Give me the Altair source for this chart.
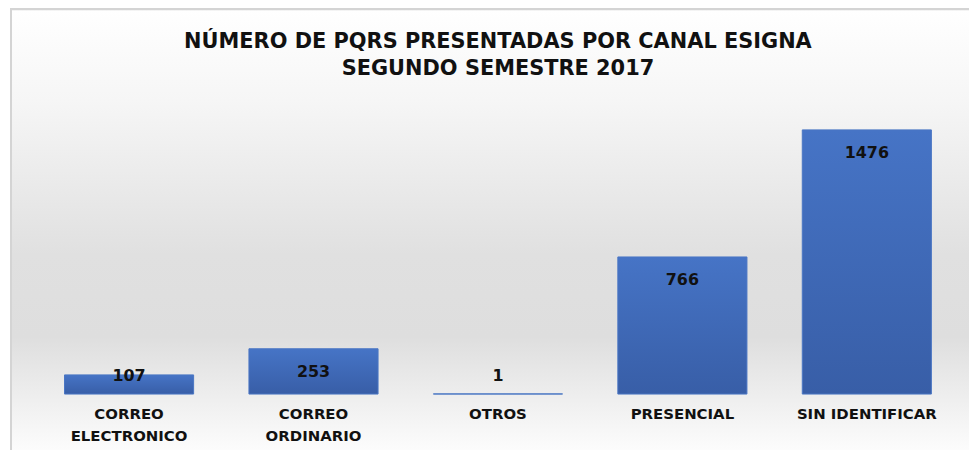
import altair as alt
import pandas as pd

categories = ["CORREO ELECTRONICO", "CORREO ORDINARIO", "OTROS", "PRESENCIAL", "SIN IDENTIFICAR"]
label_lines = ["CORREO\nELECTRONICO", "CORREO\nORDINARIO", "OTROS", "PRESENCIAL", "SIN IDENTIFICAR"]
values = [107, 253, 1, 766, 1476]

df = pd.DataFrame({"cat": label_lines, "v": values})

W = 927.5
H = 288
YMAX = 1600

x_enc = alt.X("cat:N", sort=label_lines,
              scale=alt.Scale(paddingInner=0.3, paddingOuter=0.15),
              axis=alt.Axis(title=None, labelAngle=0, domain=False, ticks=False,
                            labelExpr="split(datum.label, '\\n')",
                            labelFont="DejaVu Sans", labelFontWeight="bold",
                            labelFontSize=15, labelColor="#111111",
                            labelPadding=13, labelLineHeight=22, zindex=2))
y_scale = alt.Scale(domain=[0, YMAX])

bg = alt.Chart(df).mark_rect(
    color=alt.Gradient(
        gradient="linear", x1=0, x2=0, y1=0, y2=1,
        stops=[alt.GradientStop(offset=0, color="#ffffff"),
               alt.GradientStop(offset=0.2, color="#f6f6f6"),
               alt.GradientStop(offset=0.54, color="#e0e0e0"),
               alt.GradientStop(offset=0.72, color="#dedede"),
               alt.GradientStop(offset=0.96, color="#fbfbfb"),
               alt.GradientStop(offset=1, color="#ffffff")]),
    stroke="#d4d4d4", strokeWidth=2
).encode(x=alt.value(-26), x2=alt.value(W + 40),
         y=alt.value(-99), y2=alt.value(H + 70))

bars = alt.Chart(df).mark_bar(
    color=alt.Gradient(
        gradient="linear", x1=0, x2=0, y1=0, y2=1,
        stops=[alt.GradientStop(offset=0, color="#4674c6"),
               alt.GradientStop(offset=1, color="#385ea7")]),
    stroke="#4a76c4", strokeWidth=1
).encode(x=x_enc, y=alt.Y("v:Q", scale=y_scale, axis=None))

text = alt.Chart(df).transform_calculate(
    lp="max(datum.v - 128, 100)"
).mark_text(font="DejaVu Sans", fontWeight="bold", fontSize=16,
            color="#111111", baseline="middle").encode(
    x=alt.X("cat:N", sort=label_lines),
    y=alt.Y("lp:Q", scale=y_scale),
    text="v:Q")

chart = alt.layer(bg, bars, text).properties(
    width=W, height=H,
    autosize=alt.AutoSizeParams(type="none"),
    padding={"left": 29, "top": 99, "right": 10, "bottom": 55},
    title=alt.TitleParams(
        text=["NÚMERO DE PQRS PRESENTADAS POR CANAL ESIGNA", "SEGUNDO SEMESTRE 2017"],
        font="DejaVu Sans", fontWeight="bold", fontSize=21, color="#111111",
        anchor="middle", offset=-71, lineHeight=27, zindex=2)
).configure_view(stroke=None).configure(background="#ffffff")

chart.save("out.html", embed_options={"renderer": "svg", "actions": False})
